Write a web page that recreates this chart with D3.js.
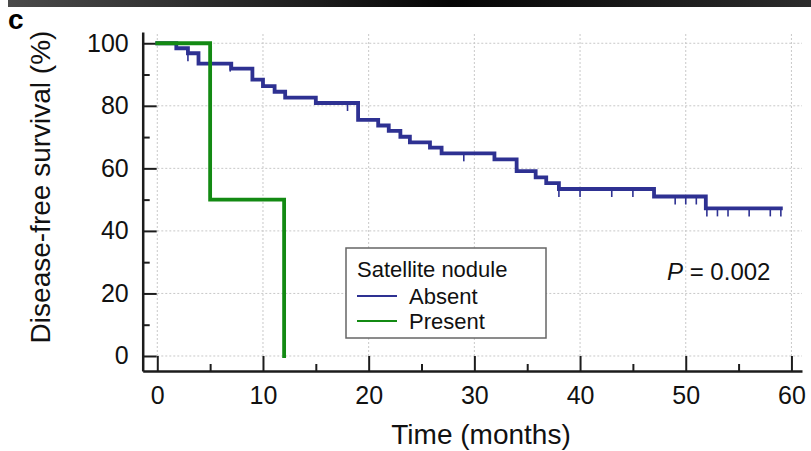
<!DOCTYPE html>
<html>
<head>
<meta charset="utf-8">
<script src="https://cdn.jsdelivr.net/npm/d3@7"></script>
<style>
  html, body { margin: 0; padding: 0; background: #fff; }
  svg { display: block; font-family: "Liberation Sans", Arial, sans-serif; }
</style>
</head>
<body>
<svg id="chart" width="811" height="451"></svg>
<script>
// ---- Data ----
const xTicks = [0, 10, 20, 30, 40, 50, 60];
const xMinorTicks = [5, 15, 25, 35, 45, 55];
const yTicks = [0, 20, 40, 60, 80, 100];
const yMinorTicks = [10, 30, 50, 70, 90];

const absentTimes = [0, 1.8, 2.9, 3.9, 7.0, 9.0, 10.0, 11.1, 12.1, 15.0, 19.0, 20.9, 21.9, 23.0, 23.9, 25.8, 26.9, 31.9, 34.0, 35.8, 36.8, 38.0, 47.0, 51.9];
const absentSurv  = [100, 98.4, 96.8, 93.5, 91.9, 88.4, 86.3, 84.5, 82.6, 80.9, 75.5, 73.7, 72.0, 70.1, 68.3, 66.6, 64.8, 62.9, 59.1, 57.1, 55.3, 53.4, 51.0, 47.2];
const absentEnd = 59;
const absentCensor = [2.9, 6.9, 18.0, 29.0, 38.0, 40.0, 43.0, 45.0, 49.0, 50.0, 51.0, 52.0, 53.0, 54.0, 56.0, 58.0, 59.0];

const presentTimes = [0, 5, 12];
const presentSurv  = [100, 50, 0];
const presentEnd = 12;
const presentCensor = [];

const legendTitle = "Satellite nodule";
const seriesNames = ["Absent", "Present"];
const seriesColors = ["#2E3192", "#138A13"];
const pValueText = "0.002";

// ---- Layout ----
const svg = d3.select("#chart");
const x = d3.scaleLinear().domain([-1.38, 61]).range([142.7, 802]);
const y = d3.scaleLinear().domain([-4.8, 103.6]).range([371, 32]);
const axisColor = "#1c1c1c";

// top dark strip (edge of the figure above)
const grad = svg.append("defs").append("linearGradient").attr("id", "strip");
grad.append("stop").attr("offset", "0%").attr("stop-color", "#4a4a4a");
grad.append("stop").attr("offset", "40%").attr("stop-color", "#1a1a1a");
grad.append("stop").attr("offset", "55%").attr("stop-color", "#050505");
grad.append("stop").attr("offset", "100%").attr("stop-color", "#2c2c2c");
svg.append("rect").attr("x", 8).attr("y", 0).attr("width", 803).attr("height", 7).attr("fill", "url(#strip)");

// panel label
svg.append("text").attr("x", 8).attr("y", 29).attr("font-size", 28).attr("font-weight", "bold").text("c");

// grid
const grid = svg.append("g").attr("stroke", "#c8c8c8").attr("stroke-width", 1).attr("stroke-dasharray", "2,2");
grid.selectAll("line.v").data(xTicks).join("line")
  .attr("x1", d => x(d)).attr("x2", d => x(d))
  .attr("y1", y(0)).attr("y2", y(103.6));
grid.selectAll("line.h").data(yTicks).join("line")
  .attr("x1", x(0)).attr("x2", x(61))
  .attr("y1", d => y(d)).attr("y2", d => y(d));

// axes
function styleAxis(g) {
  g.select(".domain").attr("stroke", axisColor).attr("stroke-width", 2.5);
  g.selectAll(".tick line").attr("stroke", axisColor).attr("stroke-width", 2);
  g.selectAll(".tick text").attr("fill", "#111").attr("font-size", 25)
    .attr("font-family", '"Liberation Sans", Arial, sans-serif');
}
const xAxis = svg.append("g").attr("transform", `translate(0,${y(-4.8)})`)
  .call(d3.axisBottom(x).tickValues(xTicks).tickSizeInner(-15).tickSizeOuter(0).tickPadding(15));
styleAxis(xAxis);
const xMinor = svg.append("g").attr("transform", `translate(0,${y(-4.8)})`)
  .call(d3.axisBottom(x).tickValues(xMinorTicks).tickSizeInner(-7).tickSizeOuter(0).tickFormat(""));
xMinor.select(".domain").remove();
xMinor.selectAll(".tick line").attr("stroke", axisColor).attr("stroke-width", 2);

const yAxis = svg.append("g").attr("transform", `translate(${x(-1.38)},0)`)
  .call(d3.axisLeft(y).tickValues(yTicks).tickSizeInner(-14).tickSizeOuter(0).tickPadding(14));
styleAxis(yAxis);
const yMinor = svg.append("g").attr("transform", `translate(${x(-1.38)},0)`)
  .call(d3.axisLeft(y).tickValues(yMinorTicks).tickSizeInner(-7).tickSizeOuter(0).tickFormat(""));
yMinor.select(".domain").remove();
yMinor.selectAll(".tick line").attr("stroke", axisColor).attr("stroke-width", 2);

// axis titles
svg.append("text").attr("x", 481).attr("y", 444).attr("text-anchor", "middle")
  .attr("font-size", 28).attr("fill", "#111").text("Time (months)");
svg.append("text").attr("transform", `translate(50,187) rotate(-90)`).attr("text-anchor", "middle")
  .attr("font-size", 28).attr("fill", "#111").text("Disease-free survival (%)");

// survival curves
const stepLine = d3.line().x(d => x(d[0])).y(d => y(d[1])).curve(d3.curveStepAfter);
function survAt(times, surv, t) {
  let v = surv[0];
  for (let i = 0; i < times.length; i++) if (times[i] <= t + 1e-9) v = surv[i];
  return v;
}
const series = [
  { times: absentTimes, surv: absentSurv, end: absentEnd, censor: absentCensor, color: seriesColors[0] },
  { times: presentTimes, surv: presentSurv, end: presentEnd, censor: presentCensor, color: seriesColors[1] }
];
series.forEach(s => {
  const pts = s.times.map((t, i) => [t, s.surv[i]]);
  pts.push([s.end, s.surv[s.surv.length - 1]]);
  svg.append("path").attr("d", stepLine(pts)).attr("fill", "none")
    .attr("stroke", s.color).attr("stroke-width", 3.8).attr("stroke-linejoin", "miter").attr("stroke-linecap", "square");
  svg.append("g").selectAll("line").data(s.censor).join("line")
    .attr("x1", d => x(d)).attr("x2", d => x(d))
    .attr("y1", d => y(survAt(s.times, s.surv, d)))
    .attr("y2", d => y(survAt(s.times, s.surv, d)) + 8)
    .attr("stroke", s.color).attr("stroke-width", 1.6);
});

// legend
const lg = svg.append("g");
lg.append("rect").attr("x", 346).attr("y", 248).attr("width", 200).attr("height", 90)
  .attr("fill", "#fff").attr("stroke", "#666").attr("stroke-width", 1.5);
lg.append("text").attr("x", 357).attr("y", 277).attr("font-size", 22).attr("fill", "#111").text(legendTitle);
seriesNames.forEach((name, i) => {
  const yy = 296 + i * 25;
  lg.append("line").attr("x1", 357).attr("x2", 397).attr("y1", yy).attr("y2", yy)
    .attr("stroke", seriesColors[i]).attr("stroke-width", 2);
  lg.append("text").attr("x", 409).attr("y", yy + 8).attr("font-size", 22).attr("fill", "#111").text(name);
});

// p-value
const pt = svg.append("text").attr("x", 667).attr("y", 280).attr("font-size", 24).attr("fill", "#111");
pt.append("tspan").attr("font-style", "italic").text("P");
pt.append("tspan").text(" = " + pValueText);
</script>
</body>
</html>
